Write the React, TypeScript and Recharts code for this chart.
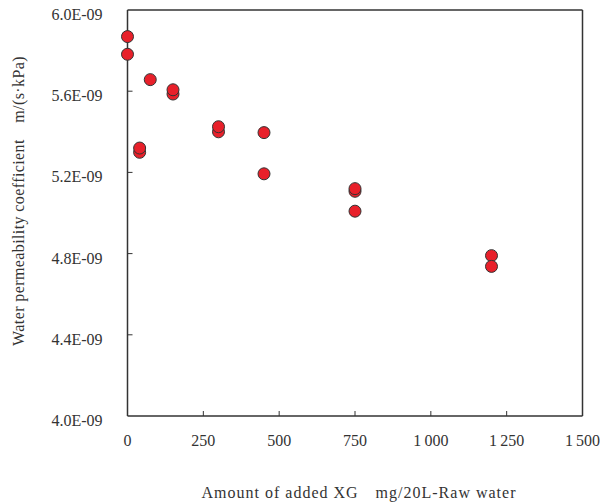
import React from 'react';
import { ScatterChart, Scatter, XAxis, YAxis, Label } from 'recharts';

// XG dose, mg per 20 L of raw water
const doses = [0, 0, 40, 40, 75, 150, 150, 300, 300, 450, 450, 750, 750, 750, 1200, 1200];
// water permeability coefficient, m/(s·kPa)
const permeability = [
  5.869e-9, 5.782e-9, 5.299e-9, 5.32e-9, 5.657e-9, 5.586e-9, 5.607e-9, 5.4e-9, 5.425e-9,
  5.396e-9, 5.193e-9, 5.107e-9, 5.12e-9, 5.009e-9, 4.79e-9, 4.737e-9,
];
const xTicks = [0, 250, 500, 750, 1000, 1250, 1500];
const yTicks = [4.0e-9, 4.4e-9, 4.8e-9, 5.2e-9, 5.6e-9, 6.0e-9];

const data = doses.map((d, i) => ({ dose: d, k: permeability[i] }));

const FONT = "'Liberation Serif', 'Times New Roman', 'DejaVu Serif', serif";
const textStyle = { fontFamily: FONT, fontSize: 16, fill: '#333' };
const AXIS = '#333';
const TICK_MARGIN_Y = 25;
const TICK_MARGIN_X = 18;
const TICK_LEN = 5;

const fmtX = (v: number) => (v >= 1000 ? `${Math.floor(v / 1000)}\u2009${String(v % 1000).padStart(3, '0')}` : String(v));
const fmtY = (v: number) => `${(v * 1e9).toFixed(1)}E-09`;

const YTick = ({ x, y, payload }: any) => (
  <g>
    {payload.value > 4.0e-9 + 1e-12 && payload.value < 6.0e-9 - 1e-12 && (
      <line x1={x + TICK_MARGIN_Y} x2={x + TICK_MARGIN_Y + TICK_LEN} y1={y} y2={y} stroke={AXIS} strokeWidth={1} />
    )}
    <text x={x} y={y} dy={10} textAnchor="end" style={textStyle}>
      {fmtY(payload.value)}
    </text>
  </g>
);

const XTick = ({ x, y, payload }: any) => (
  <g>
    {payload.value > 0 && payload.value < 1500 && (
      <line x1={x} x2={x} y1={y - TICK_MARGIN_X} y2={y - TICK_MARGIN_X - TICK_LEN} stroke={AXIS} strokeWidth={1} />
    )}
    <text x={x} y={y} dy={12} textAnchor="middle" style={textStyle}>
      {fmtX(payload.value)}
    </text>
  </g>
);

const Dot = ({ cx, cy }: any) => (
  <circle cx={cx} cy={cy} r={6} fill="#e8202a" stroke="#333" strokeWidth={1} />
);

const XTitle = ({ viewBox }: any) => (
  <text
    x={viewBox.x + viewBox.width / 2 + 4}
    y={viewBox.y + 82}
    textAnchor="middle"
    style={{ ...textStyle, letterSpacing: 1 }}
  >
    {'Amount of added XG\u3000mg/20L-Raw water'}
  </text>
);

const YTitle = ({ viewBox }: any) => {
  const cx = viewBox.x - 79 + viewBox.width - 30;
  const cy = viewBox.y + viewBox.height / 2 - 12;
  return (
    <text
      x={cx}
      y={cy}
      transform={`rotate(-90 ${cx} ${cy})`}
      textAnchor="middle"
      dominantBaseline="central"
      style={{ ...textStyle, letterSpacing: 0.4 }}
    >
      {'Water permeability coefficient\u3000m/(s\u00b7kPa)'}
    </text>
  );
};

export default function App() {
  return (
    <div style={{ position: 'fixed', left: 0, top: 0, width: 600, height: 502, background: '#fff' }}>
      <ScatterChart width={600} height={502} margin={{ top: 9, right: 16.5, bottom: 56, left: 97.5 }}>
        <XAxis
          xAxisId="main"
          type="number"
          dataKey="dose"
          domain={[0, 1500]}
          ticks={xTicks}
          height={30}
          tickSize={0}
          tickMargin={TICK_MARGIN_X}
          tick={<XTick />}
          axisLine={{ stroke: AXIS, strokeWidth: 1.5 }}
          tickLine={false}
        >
          <Label content={<XTitle />} />
        </XAxis>
        <XAxis
          xAxisId="top"
          orientation="top"
          type="number"
          domain={[0, 1500]}
          height={1}
          tick={false}
          tickLine={false}
          axisLine={{ stroke: AXIS, strokeWidth: 1.5 }}
        />
        <YAxis
          yAxisId="main"
          type="number"
          dataKey="k"
          domain={[4.0e-9, 6.0e-9]}
          ticks={yTicks}
          width={30}
          tickSize={0}
          tickMargin={TICK_MARGIN_Y}
          tick={<YTick />}
          axisLine={{ stroke: AXIS, strokeWidth: 1.5 }}
          tickLine={false}
        >
          <Label content={<YTitle />} />
        </YAxis>
        <YAxis
          yAxisId="right"
          orientation="right"
          type="number"
          domain={[4.0e-9, 6.0e-9]}
          width={1}
          tick={false}
          tickLine={false}
          axisLine={{ stroke: AXIS, strokeWidth: 1.5 }}
        />
        <Scatter
          xAxisId="main"
          yAxisId="main"
          data={data}
          shape={<Dot />}
          isAnimationActive={false}
        />
      </ScatterChart>
    </div>
  );
}
